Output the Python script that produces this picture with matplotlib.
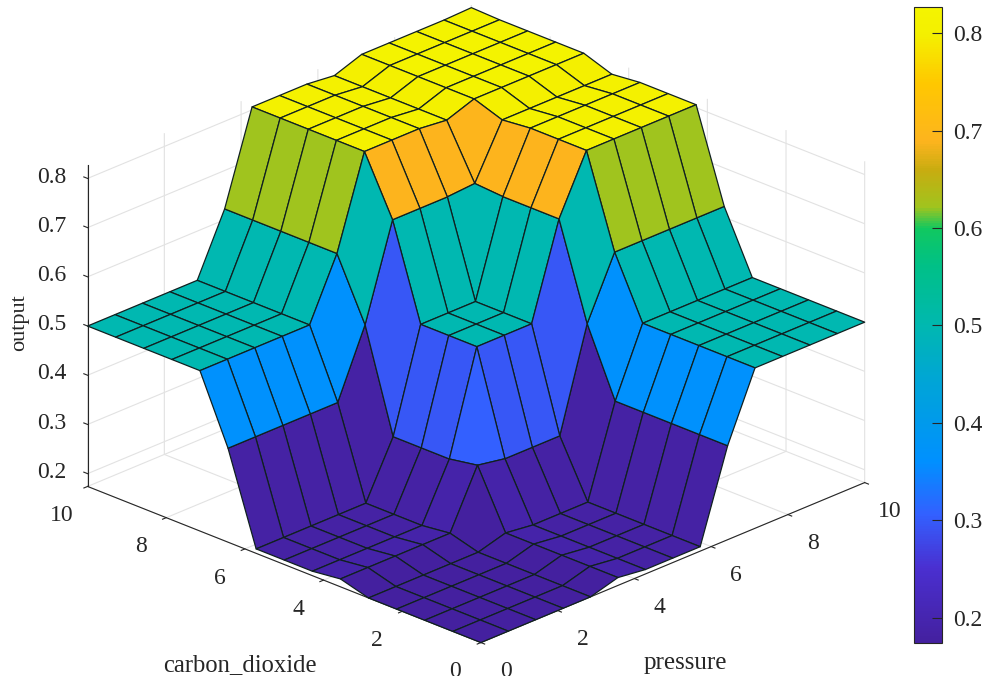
import matplotlib
matplotlib.use('Agg')
import matplotlib.pyplot as plt
from matplotlib.colors import LinearSegmentedColormap, Normalize
from matplotlib.cm import ScalarMappable
from matplotlib.transforms import Affine2D
import numpy as np

plt.rcParams['font.family'] = ['Liberation Serif', 'DejaVu Serif']
TXT = '#262626'

# --- surface (15 x 15, rows = carbon_dioxide, cols = pressure)
pressure = [0, 0.714, 1.429, 2.143, 2.857, 3.571, 4.286, 5, 5.714, 6.429, 7.143, 7.857, 8.571, 9.286, 10]
carbon_dioxide = [0, 0.714, 1.429, 2.143, 2.857, 3.571, 4.286, 5, 5.714, 6.429, 7.143, 7.857, 8.571, 9.286, 10]
output = [
    [.174, .174, .174, .174, .174, .190, .183, .183, .183, .365, .500, .500, .500, .500, .500],
    [.174, .174, .174, .174, .174, .190, .183, .183, .183, .365, .500, .500, .500, .500, .500],
    [.174, .174, .174, .174, .174, .190, .183, .183, .183, .365, .500, .500, .500, .500, .500],
    [.174, .174, .174, .174, .174, .190, .183, .183, .183, .365, .500, .500, .500, .500, .500],
    [.174, .174, .174, .174, .174, .190, .183, .183, .183, .365, .500, .500, .500, .500, .500],
    [.190, .190, .190, .190, .190, .305, .295, .295, .295, .500, .622, .622, .622, .622, .622],
    [.183, .183, .183, .183, .183, .295, .500, .500, .500, .690, .806, .806, .806, .806, .806],
    [.183, .183, .183, .183, .183, .295, .500, .500, .500, .690, .806, .806, .806, .806, .806],
    [.183, .183, .183, .183, .183, .295, .500, .500, .500, .690, .806, .806, .806, .806, .806],
    [.365, .365, .365, .365, .365, .500, .690, .690, .690, .694, .800, .800, .800, .800, .800],
    [.500, .500, .500, .500, .500, .622, .806, .806, .806, .800, .820, .820, .820, .820, .820],
    [.500, .500, .500, .500, .500, .622, .806, .806, .806, .800, .820, .820, .820, .820, .820],
    [.500, .500, .500, .500, .500, .622, .806, .806, .806, .800, .820, .820, .820, .820, .820],
    [.500, .500, .500, .500, .500, .622, .806, .806, .806, .800, .820, .820, .820, .820, .820],
    [.500, .500, .500, .500, .500, .622, .806, .806, .806, .800, .820, .820, .820, .820, .822],
]
xy_ticks = [0, 2, 4, 6, 8, 10]
z_ticks = [.2, .3, .4, .5, .6, .7, .8]
z_labels = ['0.2', '0.3', '0.4', '0.5', '0.6', '0.7', '0.8']
zmin, zmax = .174, .827

# colormap stops picked from the colorbar
stops = [(.174, '#44209f'), (.25, '#4a2fd0'), (.305, '#3360ff'), (.36, '#0090ff'), (.44, '#00a4d8'),
         (.50, '#00b8b0'), (.56, '#00c088'), (.60, '#10c860'), (.622, '#a0c41e'), (.66, '#c8ac10'),
         (.69, '#fdb41e'), (.75, '#ffc800'), (.80, '#f4f000'), (.827, '#f4f400')]
cmap = LinearSegmentedColormap.from_list('fis', [((v - zmin) / (zmax - zmin), c) for v, c in stops], N=256)
norm = Normalize(zmin, zmax)

fig = plt.figure(figsize=(9.89, 6.76), dpi=100)
ax = fig.add_axes([129 / 989, 5 / 676, 676 / 989, 1], projection='3d', proj_type='ortho')
ax.set_box_aspect((550, 550, 352), zoom=1.225)
ax.view_init(elev=24, azim=-135.7)

X, Y = np.meshgrid(pressure, carbon_dioxide)
Z = np.array(output)
surf = ax.plot_surface(X, Y, Z, rstride=1, cstride=1, facecolors=cmap(norm(Z)), shade=False,
                       edgecolor='#102020', linewidth=0.9, antialiased=True)
surf.set_clip_on(False)

ax.set_xlim(0, 10)
ax.set_ylim(0, 10)
ax.set_zlim(zmin, zmax)
ax.set_xticks(xy_ticks)
ax.set_yticks(xy_ticks)
ax.set_zticks(z_ticks)
ax.set_zticklabels(z_labels)

for axis in (ax.xaxis, ax.yaxis, ax.zaxis):
    axis.set_pane_color((1, 1, 1, 0))
    axis.pane.set_edgecolor('none')
    axis.line.set_color(TXT)
    axis.line.set_linewidth(0.8)
    axis._axinfo['grid']['color'] = '#e2e2e2'
    axis._axinfo['grid']['linewidth'] = 0.8
    axis._axinfo['tick']['inward_factor'] = 0.12
    axis._axinfo['tick']['outward_factor'] = 0.0
    axis._axinfo['tick']['linewidth'] = {True: 0.8, False: 0.8}
# z ticks stick out along the y direction like the original
ax.zaxis._get_tickdir = lambda pos: 1
ax.zaxis._axinfo['tick']['inward_factor'] = 0.0
ax.zaxis._axinfo['tick']['outward_factor'] = 0.12
ax.tick_params(colors=TXT, labelsize=17)

# nudge the tick labels, get_major_ticks resets the transform so block that
for axis, dx, dy in ((ax.xaxis, 7, 3), (ax.yaxis, -8, 3), (ax.zaxis, -1, 12)):
    for t in axis.get_major_ticks():
        t.label1.set_transform(ax.transData + Affine2D().translate(dx, dy))
        t.label1.set_transform = lambda tr: None

fig.text(240 / 989, 1 - 665 / 676, 'carbon_dioxide', ha='center', va='center', color=TXT, fontsize=17.7)
fig.text(685 / 989, 1 - 663 / 676, 'pressure', ha='center', va='center', color=TXT, fontsize=18)
fig.text(20 / 989, 1 - 323 / 676, 'output', ha='center', va='center', rotation=90, color=TXT, fontsize=16)

cax = fig.add_axes([914 / 989, 1 - 643 / 676, 28 / 989, 636 / 676])
cb = fig.colorbar(ScalarMappable(norm=norm, cmap=cmap), cax=cax, ticks=z_ticks)
cb.ax.set_yticklabels(z_labels)
cb.ax.tick_params(direction='in', length=7, width=0.8, color=TXT, labelcolor=TXT, labelsize=17, pad=8)
cb.outline.set_edgecolor(TXT)
cb.outline.set_linewidth(0.8)

fig.savefig('out.png', dpi=100)
